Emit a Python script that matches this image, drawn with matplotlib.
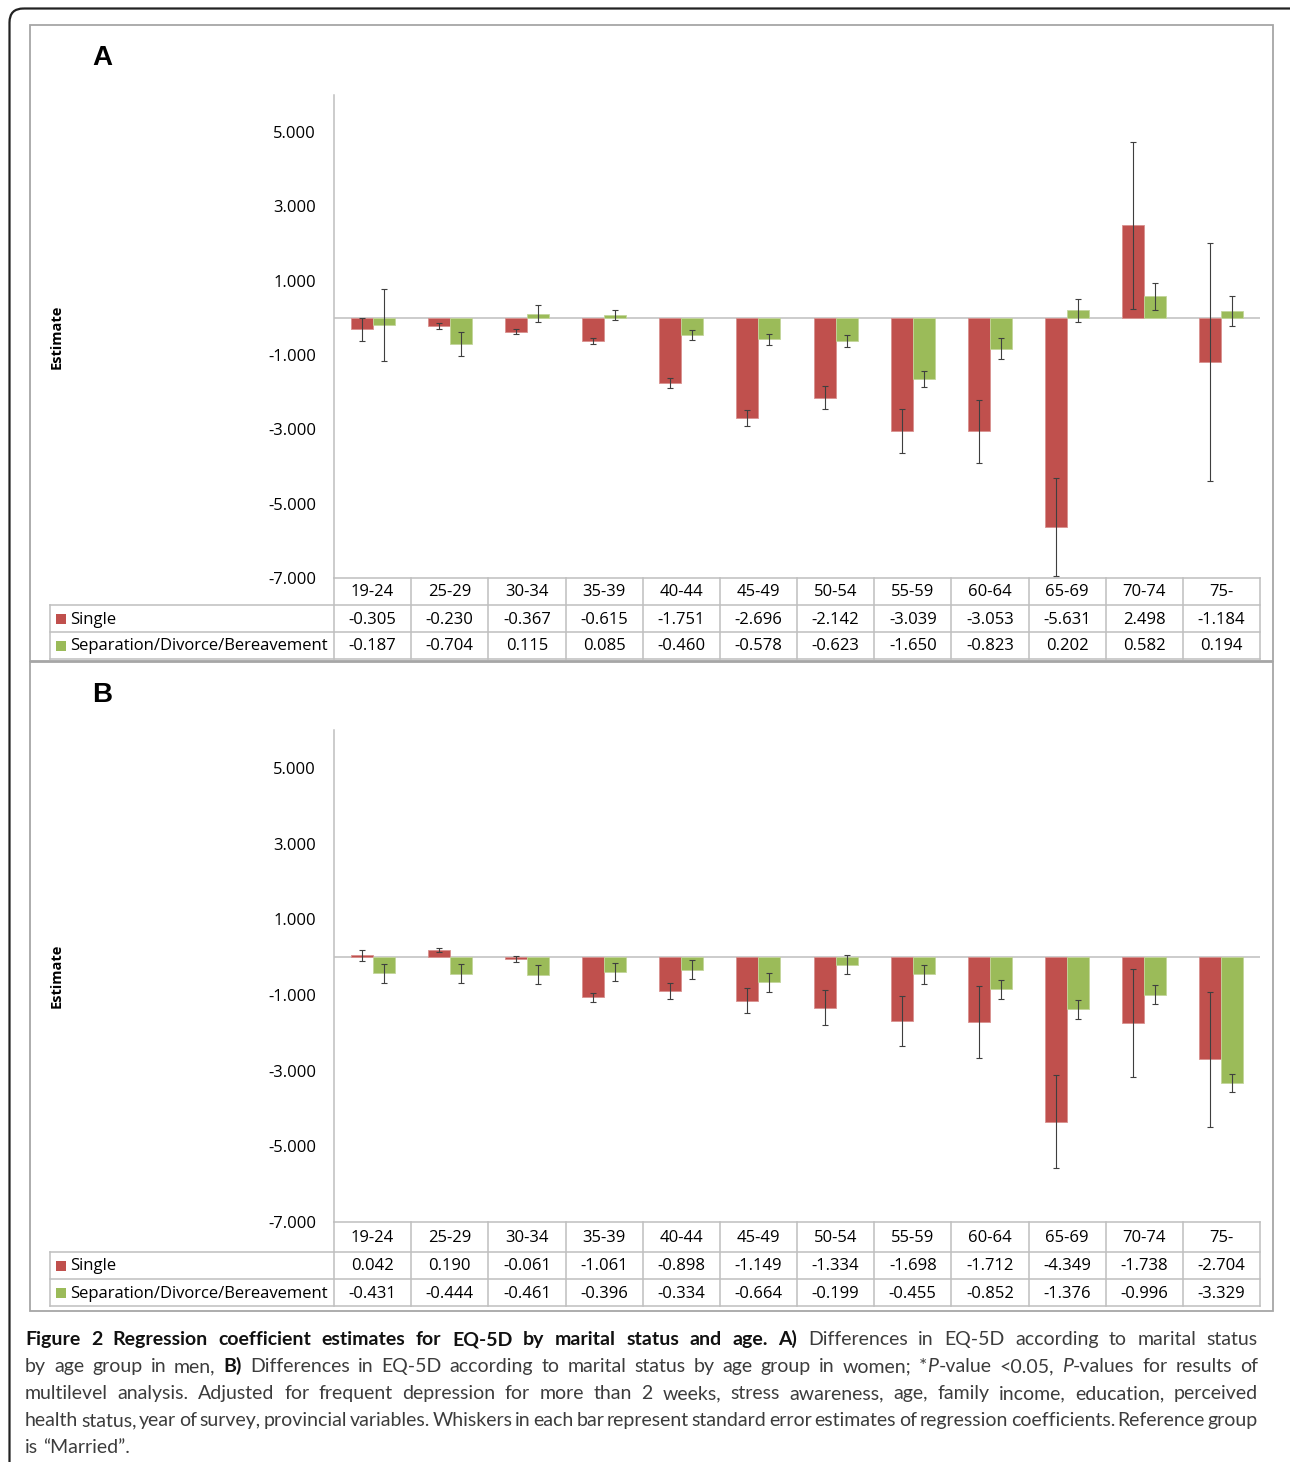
import numpy as np
import matplotlib
matplotlib.use("Agg")
import matplotlib.pyplot as plt
from matplotlib.patches import FancyBboxPatch, Rectangle

# Age groups and series
ages = ["19-24", "25-29", "30-34", "35-39", "40-44", "45-49",
        "50-54", "55-59", "60-64", "65-69", "70-74", "75-"]
series_names = ["Single", "Separation/Divorce/Bereavement"]
series_colors = ["#C0504D", "#9BBB59"]
edge_colors = ["#D9918F", "#C3D69B"]

# A) men
men_single = [-0.305, -0.230, -0.367, -0.615, -1.751, -2.696,
              -2.142, -3.039, -3.053, -5.631, 2.498, -1.184]
men_sep = [-0.187, -0.704, 0.115, 0.085, -0.460, -0.578,
           -0.623, -1.650, -0.823, 0.202, 0.582, 0.194]
men_single_se = [0.31, 0.08, 0.07, 0.08, 0.14, 0.22,
                 0.32, 0.59, 0.85, 1.31, 2.25, 3.20]
men_sep_se = [0.97, 0.33, 0.22, 0.14, 0.14, 0.15,
              0.16, 0.21, 0.27, 0.31, 0.37, 0.40]

# B) women
women_single = [0.042, 0.190, -0.061, -1.061, -0.898, -1.149,
                -1.334, -1.698, -1.712, -4.349, -1.738, -2.704]
women_sep = [-0.431, -0.444, -0.461, -0.396, -0.334, -0.664,
             -0.199, -0.455, -0.852, -1.376, -0.996, -3.329]
women_single_se = [0.14, 0.06, 0.08, 0.12, 0.20, 0.32,
                   0.46, 0.66, 0.95, 1.23, 1.43, 1.78]
women_sep_se = [0.25, 0.25, 0.26, 0.24, 0.25, 0.25,
                0.25, 0.25, 0.25, 0.25, 0.25, 0.24]

yticks = [-7, -5, -3, -1, 1, 3, 5]

caption_lines = [
    "§Figure 2 Regression coefficient estimates for EQ-5D by marital status and age. A)§ Differences in EQ-5D according to marital status",
    "by age group in men, §B)§ Differences in EQ-5D according to marital status by age group in women; *|P|-value <0.05, |P|-values for results of",
    "multilevel analysis. Adjusted for frequent depression for more than 2 weeks, stress awareness, age, family income, education, perceived",
    "health status, year of survey, provincial variables. Whiskers in each bar represent standard error estimates of regression coefficients. Reference group",
    "is “Married”.",
]

W, H = 1290, 1462
FONT = "Open Sans"
CAP_FONT = "Lato"
GRID = "#BFBFBF"

fig = plt.figure(figsize=(W / 100, H / 100), dpi=100, facecolor="white")

# full-figure canvas in pixel units for frames, tables and caption
bg = fig.add_axes([0, 0, 1, 1])
bg.set_xlim(0, W)
bg.set_ylim(H, 0)
bg.axis("off")


def px_rect(x0, y0, x1, y1):
    return [x0 / W, 1 - y1 / H, (x1 - x0) / W, (y1 - y0) / H]


bg.add_patch(FancyBboxPatch((9.5, 8.5), 1320, 1500,
                            boxstyle="round,pad=0,rounding_size=14",
                            fc="none", ec="#222222", lw=1.6))

PLOT_L, PLOT_R = 334, 1260
LEG_L = 50


def draw_panel(letter, box, plot_top, plot_bot, rows_y, single, sep, single_se, sep_se):
    bx0, by0, bx1, by1 = box
    bg.add_patch(Rectangle((bx0, by0), bx1 - bx0, by1 - by0,
                           fc="none", ec="#A6A6A6", lw=1.3))
    bg.text(bx0 + 72, by0 + 33, letter, family="Liberation Sans",
            fontweight="bold", fontsize=20, ha="center", va="center")
    bg.text(57, (plot_top + plot_bot) / 2, "Estimate", rotation=90,
            family=FONT, fontweight="bold", fontsize=10.5,
            ha="center", va="center")

    ax = fig.add_axes(px_rect(PLOT_L, plot_top, PLOT_R, plot_bot))
    ax.set_facecolor("none")
    x = np.arange(len(ages))
    w = 0.285
    ekw = dict(ecolor="#3F3F3F", elinewidth=0.8, capsize=2.2, capthick=0.8)
    for k, (vals, err) in enumerate([(single, single_se), (sep, sep_se)]):
        ax.bar(x + (k - 0.5) * w, vals, w, yerr=err, color=series_colors[k],
               edgecolor=edge_colors[k], linewidth=0.6, error_kw=ekw, zorder=2)
    ax.axhline(0, color=GRID, lw=1.1, zorder=1)
    ax.set_xlim(-0.5, len(ages) - 0.5)
    ax.set_ylim(-7, 6)
    ax.set_xticks([])
    ax.set_yticks(yticks)
    ax.set_yticklabels([f"{v:.3f}" for v in yticks], family=FONT, fontsize=12)
    ax.tick_params(axis="y", length=0, pad=13)
    for s in ["top", "right", "bottom"]:
        ax.spines[s].set_visible(False)
    ax.spines["left"].set_color(GRID)
    ax.spines["left"].set_linewidth(1.1)

    # data table under the bars
    y0, y1, y2, y3 = rows_y
    edges = np.linspace(PLOT_L, PLOT_R, len(ages) + 1)
    centers = (edges[:-1] + edges[1:]) / 2
    lk = dict(color=GRID, lw=1.1)
    bg.plot([PLOT_L, PLOT_R], [y0, y0], **lk)
    for yy in (y1, y2, y3):
        bg.plot([LEG_L, PLOT_R], [yy, yy], **lk)
    for xx in edges:
        bg.plot([xx, xx], [y0, y3], **lk)
    bg.plot([LEG_L, LEG_L], [y1, y3], **lk)
    tk = dict(family=FONT, fontsize=12, ha="center", va="center")
    for cx, lab in zip(centers, ages):
        bg.text(cx, (y0 + y1) / 2 + 1, lab, **tk)
    for (ya, yb), vals, name, col in zip([(y1, y2), (y2, y3)], [single, sep],
                                         series_names, series_colors):
        ym = (ya + yb) / 2
        for cx, v in zip(centers, vals):
            bg.text(cx, ym + 1, f"{v:.3f}", **tk)
        bg.add_patch(Rectangle((56, ym - 5), 10, 10, fc=col, ec="none"))
        bg.text(70, ym + 1, name, family=FONT, fontsize=12, ha="left", va="center")


draw_panel("A", (30, 25, 1273, 661), 95, 578, (578, 605, 632, 659),
           men_single, men_sep, men_single_se, men_sep_se)
draw_panel("B", (30, 662, 1273, 1311), 730, 1222, (1222, 1252, 1279, 1306),
           women_single, women_sep, women_single_se, women_sep_se)


# justified caption with bold / italic runs
def parse(line):
    words = [[]]
    state = {"b": False, "i": False, "buf": ""}

    def flush():
        if state["buf"]:
            words[-1].append((state["buf"], state["b"], state["i"]))
            state["buf"] = ""

    for ch in line:
        if ch == "§":
            flush()
            state["b"] = not state["b"]
        elif ch == "|":
            flush()
            state["i"] = not state["i"]
        elif ch == " ":
            flush()
            words.append([])
        else:
            state["buf"] += ch
    flush()
    return [w for w in words if w]


renderer = fig.canvas.get_renderer()
CAP_L, CAP_R = 25, 1258
cap_fs = 14
for i, line in enumerate(caption_lines):
    words = parse(line)
    base_y = 1345 + i * 27
    placed, widths = [], []
    for word in words:
        segs, total = [], 0
        for s, b, it in word:
            t = bg.text(0, base_y, s, family=CAP_FONT, fontsize=cap_fs,
                        fontweight="bold" if b else "normal",
                        fontstyle="italic" if it else "normal",
                        color="#111111" if b else "#3C3C3C",
                        ha="left", va="baseline")
            wpx = t.get_window_extent(renderer).width
            segs.append((t, wpx))
            total += wpx
        placed.append(segs)
        widths.append(total)
    if i < len(caption_lines) - 1 and len(words) > 1:
        gap = (CAP_R - CAP_L - sum(widths)) / (len(words) - 1)
    else:
        gap = cap_fs * 0.36
    xc = CAP_L
    for segs, total in zip(placed, widths):
        xs = xc
        for t, wpx in segs:
            t.set_x(xs)
            xs += wpx
        xc += total + gap

fig.savefig("out.png", dpi=100)
